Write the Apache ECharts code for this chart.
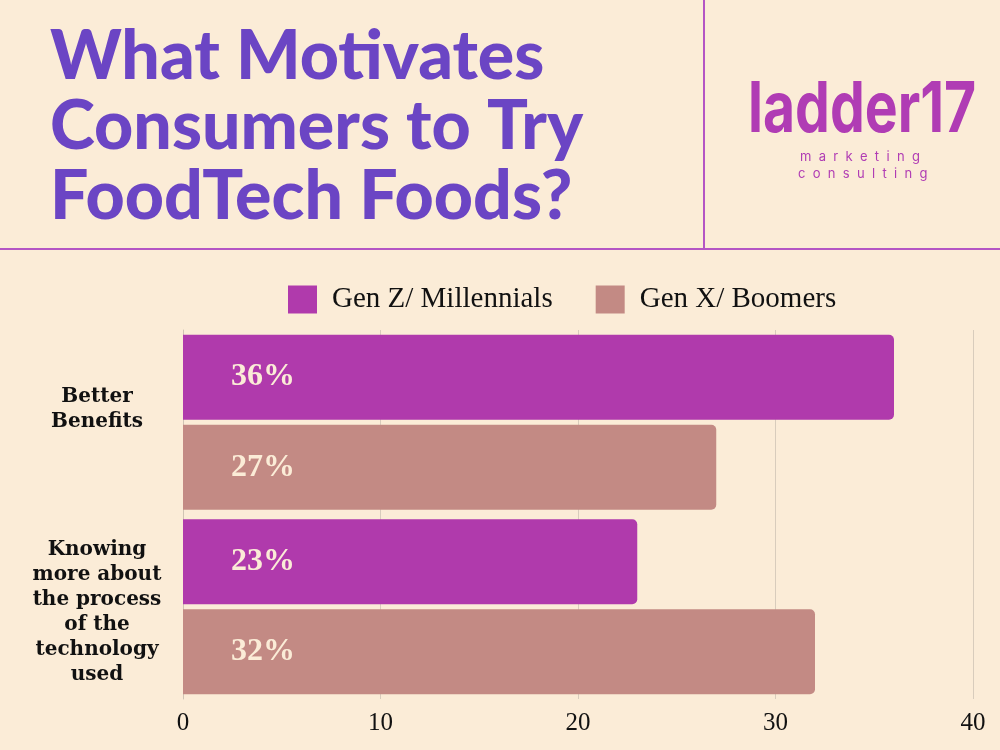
<!DOCTYPE html>
<html><head><meta charset="utf-8">
<script src="https://cdn.jsdelivr.net/npm/echarts@6/dist/echarts.min.js"></script>
<style>html,body{margin:0;padding:0;background:#FBECD7;}#c{width:1000px;height:750px;}</style>
</head><body><div id="c"></div>
<script>
const categories = ['Better\nBenefits', 'Knowing\nmore about\nthe process\nof the\ntechnology\nused'];
const seriesNames = ['Gen Z/ Millennials', 'Gen X/ Boomers'];
const genZ = [36, 23];
const genX = [27, 32];
const xTicks = [0, 10, 20, 30, 40];
const titleLines = ['What Motivates', 'Consumers to Try', 'FoodTech Foods?'];

const chart = echarts.init(document.getElementById('c'));
const serif = '"DejaVu Serif", "Liberation Serif", serif';
const barLabel = {show: true, position: 'insideLeft', distance: 48, formatter: '{c}%', color: '#FBECD7', fontFamily: '"Liberation Serif", serif', fontWeight: 'bold', fontSize: 32};
chart.setOption({
  backgroundColor: '#FBECD7',
  animation: false,
  graphic: [
    {type: 'text', left: 50, top: 22, style: {text: titleLines.join('\n'), font: '900 68px Lato, Inter, sans-serif', fill: '#6B45C4', lineHeight: 70}},
    {type: 'line', shape: {x1: 704, y1: 0, x2: 704, y2: 249}, style: {stroke: '#B455C4', lineWidth: 2}},
    {type: 'line', shape: {x1: 0, y1: 249, x2: 1000, y2: 249}, style: {stroke: '#B455C4', lineWidth: 2}},
    {type: 'text', x: 748, y: 76, scaleX: 0.79, style: {text: 'ladder17', font: 'bold 70px Inter, sans-serif', fill: '#B03CB4'}},
    {type: 'text', left: 800, top: 151, style: {text: 'm  a  r  k  e  t  i  n  g', font: '13px Inter, sans-serif', fill: '#B03CB4'}},
    {type: 'text', left: 798, top: 168, style: {text: 'c  o  n  s  u  l  t  i  n  g', font: '13px Inter, sans-serif', fill: '#B03CB4'}}
  ],
  legend: {
    left: 283, top: 280, itemWidth: 29, itemHeight: 28, itemGap: 43, icon: 'rect',
    textStyle: {fontFamily: '"Liberation Serif", serif', fontSize: 29, color: '#111', padding: [0, 0, 0, 10]},
    data: seriesNames
  },
  grid: {left: 183, right: 27, top: 330, bottom: 51, outerBoundsMode: 'none', containLabel: false},
  xAxis: {
    type: 'value', min: 0, max: 40, interval: 10,
    axisLine: {show: false}, axisTick: {show: false},
    splitLine: {lineStyle: {color: '#D8CCBC', width: 1}},
    axisLabel: {fontFamily: '"Liberation Serif", serif', fontSize: 25, color: '#111', margin: 12,
      formatter: v => xTicks.includes(v) ? String(v) : ''}
  },
  yAxis: {
    type: 'category', inverse: true, data: categories,
    axisLine: {lineStyle: {color: '#D0C4B4'}}, axisTick: {show: false},
    axisLabel: {fontFamily: serif, fontWeight: 'bold', fontSize: 20, lineHeight: 25, color: '#111', align: 'center', margin: 86,
      formatter: (v, i) => i === 0 ? v + '\n{g|}' : '{h|}\n' + v,
      rich: {g: {lineHeight: 26, height: 26}, h: {lineHeight: 12, height: 12}}}
  },
  series: [
    {name: seriesNames[0], type: 'bar', data: genZ, barWidth: 85, barGap: '6%', itemStyle: {color: '#B03AAC', borderRadius: [0, 5, 5, 0]}, label: barLabel},
    {name: seriesNames[1], type: 'bar', data: genX, barWidth: 85, barGap: '6%', itemStyle: {color: '#C38A84', borderRadius: [0, 5, 5, 0]}, label: barLabel}
  ]
});
</script></body></html>
